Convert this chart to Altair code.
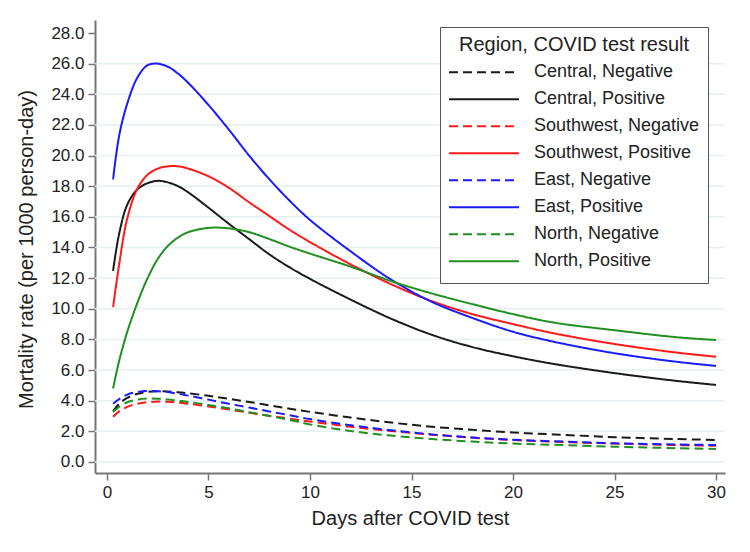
import altair as alt
import pandas as pd

days = [0.3, 0.6, 1, 1.5, 2, 2.5, 3, 3.5, 4, 5, 6, 7, 8, 9, 10, 12, 14, 16, 18, 20, 22, 25, 28, 30]

central_neg = [3.3, 3.8, 4.18, 4.45, 4.58, 4.62, 4.6, 4.55, 4.48, 4.32, 4.12, 3.92, 3.7, 3.48, 3.27, 2.9, 2.57, 2.3, 2.1, 1.92, 1.8, 1.62, 1.5, 1.44]
central_pos = [12.48, 14.9, 16.8, 17.8, 18.2, 18.35, 18.25, 18.0, 17.6, 16.6, 15.55, 14.55, 13.55, 12.7, 11.95, 10.6, 9.35, 8.3, 7.5, 6.9, 6.4, 5.8, 5.3, 5.03]
southwest_neg = [2.95, 3.3, 3.6, 3.8, 3.9, 3.94, 3.93, 3.88, 3.8, 3.62, 3.42, 3.22, 3.02, 2.82, 2.64, 2.3, 2.02, 1.78, 1.58, 1.43, 1.32, 1.2, 1.1, 1.06]
southwest_pos = [10.1, 12.9, 15.9, 17.85, 18.75, 19.15, 19.3, 19.3, 19.15, 18.65, 17.9, 16.95, 16.05, 15.15, 14.35, 12.9, 11.6, 10.5, 9.65, 9.0, 8.4, 7.7, 7.15, 6.87]
east_neg = [3.8, 4.1, 4.4, 4.57, 4.64, 4.62, 4.56, 4.45, 4.33, 4.07, 3.8, 3.55, 3.3, 3.05, 2.8, 2.4, 2.07, 1.8, 1.6, 1.45, 1.35, 1.22, 1.14, 1.11]
east_pos = [18.45, 21.3, 23.4, 25.1, 25.9, 26.0, 25.8, 25.35, 24.75, 23.3, 21.7, 20.0, 18.45, 17.05, 15.8, 13.75, 11.9, 10.45, 9.4, 8.5, 7.85, 7.1, 6.55, 6.27]
north_neg = [3.28, 3.6, 3.9, 4.07, 4.14, 4.13, 4.08, 4.0, 3.92, 3.72, 3.5, 3.25, 3.0, 2.75, 2.45, 2.02, 1.72, 1.5, 1.33, 1.2, 1.12, 1.0, 0.9, 0.85]
north_pos = [4.8, 6.6, 8.5, 10.4, 12.0, 13.25, 14.1, 14.65, 15.0, 15.28, 15.25, 15.0, 14.55, 14.05, 13.6, 12.75, 11.8, 11.0, 10.3, 9.65, 9.1, 8.6, 8.15, 7.96]

series_names = ["Central, Negative", "Central, Positive", "Southwest, Negative", "Southwest, Positive",
                "East, Negative", "East, Positive", "North, Negative", "North, Positive"]
series_values = [central_neg, central_pos, southwest_neg, southwest_pos, east_neg, east_pos, north_neg, north_pos]
series_colors = ["#1a1a1a", "#1a1a1a", "#ff1a1a", "#ff1a1a", "#1a1aff", "#1a1aff", "#209020", "#209020"]
series_dash = [[9, 5], [1, 0], [9, 5], [1, 0], [9, 5], [1, 0], [9, 5], [1, 0]]

y_ticks = [0, 2, 4, 6, 8, 10, 12, 14, 16, 18, 20, 22, 24, 26, 28]
grid_values = [0, 2, 4, 6, 8, 10, 12, 14, 16, 18, 20, 22, 24, 26]
x_ticks = [0, 5, 10, 15, 20, 25, 30]

rows = []
for name, vals in zip(series_names, series_values):
    for d, v in zip(days, vals):
        rows.append({"day": d, "rate": v, "series": name})
df = pd.DataFrame(rows)
grid_df = pd.DataFrame({"g": grid_values})

FONT = "Liberation Sans"

xscale = alt.Scale(domain=[-0.59, 30.44], nice=False, zero=False)
yscale = alt.Scale(domain=[-0.72, 28.85], nice=False, zero=False)

YTITLE = "Mortality rate (per 1000 person-day)"
yaxis = alt.Axis(values=y_ticks, format=".1f", title=YTITLE,
                 grid=False, tickSize=7, labelPadding=4,
                 titleX=-69, titleY=229, titleAlign="center", titleBaseline="middle")

grid = alt.Chart(grid_df).mark_rule(color="#e6eff1", strokeWidth=1.5).encode(
    y=alt.Y("g:Q", scale=yscale, axis=yaxis, title=YTITLE)
)

lines = alt.Chart(df).mark_line(strokeWidth=2, interpolate="catmull-rom").encode(
    x=alt.X("day:Q", scale=xscale,
            axis=alt.Axis(values=x_ticks, title="Days after COVID test", grid=False,
                          tickSize=7, labelPadding=4, titlePadding=8)),
    y=alt.Y("rate:Q", scale=yscale, axis=yaxis, title=YTITLE),
    color=alt.Color("series:N", scale=alt.Scale(domain=series_names, range=series_colors),
                    legend=alt.Legend(orient="none", legendX=345, legendY=7,
                                      title="Region, COVID test result",
                                      symbolType="stroke", symbolSize=4900, symbolStrokeWidth=2,
                                      labelFontSize=18, titleFontSize=20, titleFontWeight="normal",
                                      titleAnchor="middle", titleLimit=400, labelLimit=300,
                                      labelOffset=14, rowPadding=0, titlePadding=4,
                                      clipHeight=26.7,
                                      padding=8, strokeColor="#555555", fillColor="white",
                                      labelFont=FONT, titleFont=FONT, labelColor="#222",
                                      titleColor="#222")),
    strokeDash=alt.StrokeDash("series:N", scale=alt.Scale(domain=series_names, range=series_dash),
                              legend=None),
    detail="series:N",
)

chart = alt.layer(grid, lines).properties(
    width=630, height=453,
    padding={"left": 87, "top": 12, "right": 10, "bottom": 60},
    autosize=alt.AutoSizeParams(type="none"),
    background="white",
).configure_view(stroke=None).configure_axis(
    labelFont=FONT, titleFont=FONT, labelFontSize=17, titleFontSize=20,
    titleFontWeight="normal", labelColor="#222", titleColor="#222",
    domainColor="#777", domainWidth=2, tickColor="#777", tickWidth=1.5,
)

chart.save("out.html", embed_options={"renderer": "svg", "actions": False})
